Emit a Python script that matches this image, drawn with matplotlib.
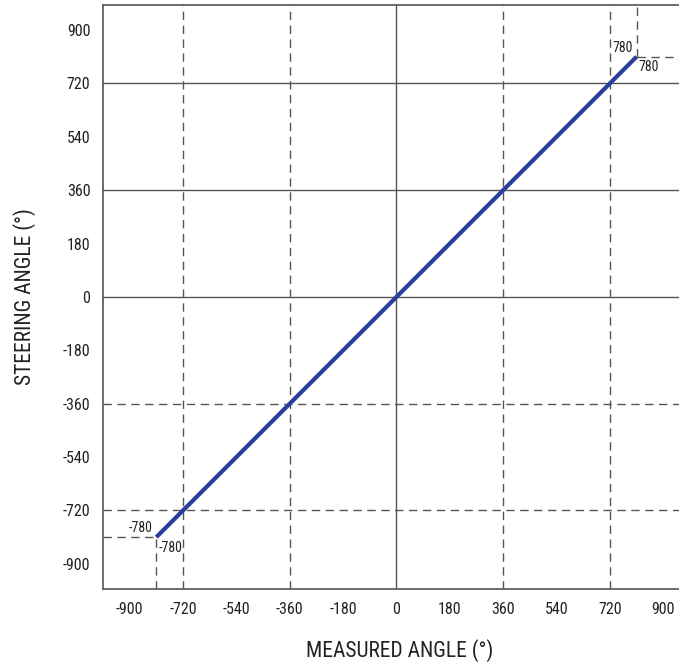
import matplotlib
matplotlib.use("Agg")
import matplotlib.pyplot as plt
from matplotlib import font_manager

fams = {f.name for f in font_manager.fontManager.ttflist}
FONT = "Roboto Condensed" if "Roboto Condensed" in fams else "DejaVu Sans"
plt.rcParams['font.family'] = [FONT, 'DejaVu Sans']

measured = [-810, 810]
steering = [-810, 810]
end_labels = ["-780", "780"]
ticks = [-900, -720, -540, -360, -180, 0, 180, 360, 540, 720, 900]
solid_h = [720, 360, 0]
dashed_h = [-360, -720]
solid_v = [0]
dashed_v = [-720, -360, 360, 720]

W, H = 679, 663
fig = plt.figure(figsize=(W/100, H/100), dpi=100)
ax = fig.add_axes([103/W, (H-589)/H, 1 - 103/W, (589-4.5)/H])
xlim = (-990, 953)
ylim = (-985, 986)
ax.set_xlim(*xlim)
ax.set_ylim(*ylim)

gc = '#555555'
lw = 1.0
dash = (0, (6, 4))
for y in solid_h:
    ax.axhline(y, color=gc, lw=lw, zorder=1)
for y in dashed_h:
    ax.axhline(y, color=gc, lw=lw, ls=dash, zorder=1)
for x in solid_v:
    ax.axvline(x, color=gc, lw=lw, zorder=1)
for x in dashed_v:
    ax.axvline(x, color=gc, lw=lw, ls=dash, zorder=1)

# endpoint guide lines
lo_x, hi_x = measured[0], measured[-1]
lo_y, hi_y = steering[0], steering[-1]
ax.plot([xlim[0], lo_x], [lo_y, lo_y], color=gc, lw=lw, ls=dash, zorder=1)
ax.plot([lo_x, lo_x], [ylim[0], lo_y], color=gc, lw=lw, ls=dash, zorder=1)
ax.plot([hi_x, xlim[1]], [hi_y, hi_y], color=gc, lw=lw, ls=dash, zorder=1)
ax.plot([hi_x, hi_x], [hi_y, ylim[1]], color=gc, lw=lw, ls=dash, zorder=1)

ax.plot(measured, steering, color='#2b3f9a', lw=3.0, solid_capstyle='butt', zorder=3)

fs_small = 10
tc = '#222222'
for (x, y, lab) in [(lo_x, lo_y, end_labels[0]), (hi_x, hi_y, end_labels[1])]:
    ax.annotate(lab, (x, y), xytext=(-2.5, 1.5), textcoords='offset points',
                ha='right', va='bottom', fontsize=fs_small, color=tc)
    ax.annotate(lab, (x, y), xytext=(1.5, -2.5), textcoords='offset points',
                ha='left', va='top', fontsize=fs_small, color=tc)

ax.set_xticks(ticks)
ax.set_yticks(ticks)
ax.set_xticklabels([str(t) for t in ticks])
ax.set_yticklabels([str(t) for t in ticks])
ax.tick_params(length=0, labelsize=11.5, colors=tc)
ax.tick_params(axis='x', pad=9.5)
ax.tick_params(axis='y', pad=9)

for s in ['left', 'bottom', 'top']:
    ax.spines[s].set_color(gc)
    ax.spines[s].set_linewidth(1.2)
ax.spines['right'].set_visible(False)

ax.set_xlabel("MEASURED ANGLE (°)", fontsize=15.5, labelpad=16, color=tc)
ax.xaxis.label.set_x(0.515)
ax.set_ylabel("STEERING ANGLE (°)", fontsize=15.5, labelpad=19, color=tc)

fig.savefig("out.png", dpi=100)
